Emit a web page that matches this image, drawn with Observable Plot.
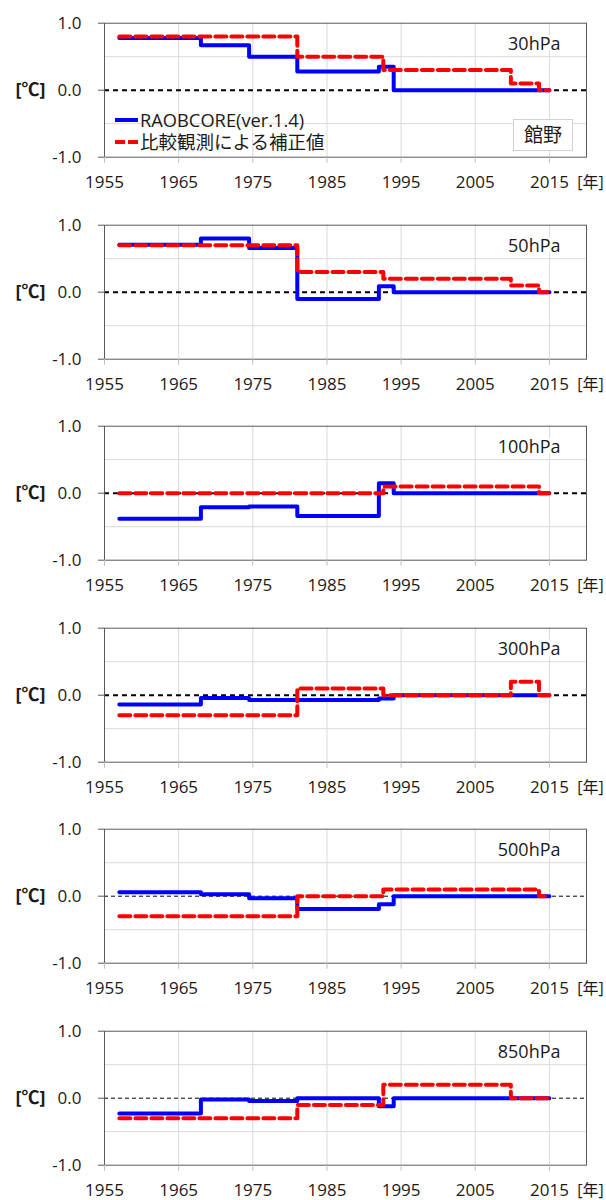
<!DOCTYPE html>
<html><head><meta charset="utf-8">
<script src="https://cdn.jsdelivr.net/npm/d3@7"></script>
<script src="https://cdn.jsdelivr.net/npm/@observablehq/plot@0.6"></script>
<style>
body{margin:0;background:#fff;}
#wrap{position:relative;width:606px;height:1200px;font-family:"Open Sans","Noto Sans CJK JP",sans-serif;color:#1a1a1a;overflow:hidden;}
#wrap svg{display:block;}
.ov{position:absolute;white-space:nowrap;}
</style></head><body><div id="wrap"></div>
<script>
// ---- data ----
const levels = ["30hPa", "50hPa", "100hPa", "300hPa", "500hPa", "850hPa"];
const seriesNames = ["RAOBCORE(ver.1.4)", "比較観測による補正値"];
const stationName = "館野";
const yUnit = "[℃]";
const xUnit = "[年]";
const xTicks = [1955, 1965, 1975, 1985, 1995, 2005, 2015];
const xUnitTick = [2020];
const xGrid = [1965, 1975, 1985, 1995, 2005, 2015];
const yTicks = [-1, 0, 1];
const yGrid = [-0.5, 0.5];

// RAOBCORE change years (step-after) and values per level
const raobYears = [1957, 1968, 1974.5, 1981, 1992, 1994, 2015];
const raob30  = [0.78, 0.67, 0.50, 0.28, 0.35, 0.00, 0.00];
const raob50  = [0.71, 0.80, 0.66, -0.10, 0.09, 0.00, 0.00];
const raob100 = [-0.38, -0.21, -0.20, -0.34, 0.15, 0.00, 0.00];
const raob300 = [-0.14, -0.04, -0.07, -0.07, -0.05, 0.00, 0.00];
const raob500 = [0.06, 0.03, -0.03, -0.19, -0.12, 0.00, 0.00];
const raob850 = [-0.23, -0.02, -0.04, 0.00, -0.12, 0.00, 0.00];

// Comparison-based correction change years and values per level
const compYears = [1957, 1981, 1992.6, 2009.8, 2013.6, 2015];
const comp30  = [0.80, 0.50, 0.30, 0.10, 0.00, 0.00];
const comp50  = [0.70, 0.30, 0.20, 0.10, 0.00, 0.00];
const comp100 = [0.00, 0.00, 0.10, 0.10, 0.00, 0.00];
const comp300 = [-0.30, 0.10, 0.00, 0.20, 0.00, 0.00];
const comp500 = [-0.30, 0.00, 0.10, 0.10, 0.00, 0.00];
const comp850 = [-0.30, -0.10, 0.20, 0.00, 0.00, 0.00];

const raobAll = [raob30, raob50, raob100, raob300, raob500, raob850];
const compAll = [comp30, comp50, comp100, comp300, comp500, comp850];

// ---- drawing ----
const wrap = document.getElementById("wrap");
const FONT = '"Open Sans","Noto Sans CJK JP",sans-serif';
const toRows = (years, vals) => years.map((year, i) => ({year, value: vals[i]}));
const TXT = "#1a1a1a";

levels.forEach((level, k) => {
  const thin = k >= 4;
  const chart = Plot.plot({
    width: 606, height: 201.6,
    marginLeft: 104, marginRight: 20, marginTop: 22.7, marginBottom: 44.9,
    x: {domain: [1955, 2020], label: null},
    y: {domain: [-1, 1], label: null},
    style: {fontFamily: FONT, fontSize: "17px", color: TXT, background: "white", overflow: "visible"},
    marks: [
      Plot.gridX(xGrid, {stroke: "#d9d9d9", strokeOpacity: 1}),
      Plot.gridY(yGrid, {stroke: "#d9d9d9", strokeOpacity: 1}),
      Plot.ruleY([0], {stroke: "#000", strokeWidth: thin ? 1 : 2, strokeDasharray: thin ? "4,3" : "5,4"}),
      Plot.frame({stroke: "#595959"}),
      Plot.axisY(yTicks, {tickSize: 6, tickPadding: 17, tickFormat: d => d.toFixed(1), stroke: "#595959", fontSize: 17}),
      Plot.axisX(xTicks, {tickSize: 6, tickPadding: 13, tickFormat: d => String(d), stroke: "#bfbfbf", fontSize: 17}),
      Plot.axisX(xUnitTick, {tickSize: 0, tickPadding: 19, dx: 4, tickFormat: () => xUnit, fontSize: 16}),
      Plot.line(toRows(raobYears, raobAll[k]), {x: "year", y: "value", curve: "step-after", stroke: "#0000ff", strokeWidth: 4}),
      Plot.line(toRows(compYears, compAll[k]), {x: "year", y: "value", curve: "step-after", stroke: "#ff0000", strokeWidth: 4, strokeDasharray: "11,5"}),
      Plot.text([level], {frameAnchor: "top-right", dx: -26, dy: 21, textAnchor: "end", lineAnchor: "middle", fontSize: 18, fill: TXT, stroke: "white", strokeWidth: 6}),
      Plot.text([yUnit], {y: () => 0, frameAnchor: "left", dx: -74, textAnchor: "middle", fontSize: 18, fontWeight: "bold", fill: TXT})
    ]
  });
  wrap.appendChild(chart);
});

// legend (inside first panel)
const legendColors = ["#0000ff", "#ff0000"];
const legendDash = [null, "10,3"];
const legendY = [120, 142];
const svgNS = "http://www.w3.org/2000/svg";
const lsvg = document.createElementNS(svgNS, "svg");
lsvg.setAttribute("width", 606); lsvg.setAttribute("height", 200);
lsvg.style.position = "absolute"; lsvg.style.left = "0"; lsvg.style.top = "0";
seriesNames.forEach((name, i) => {
  const ln = document.createElementNS(svgNS, "line");
  ln.setAttribute("x1", 115); ln.setAttribute("x2", 138);
  ln.setAttribute("y1", legendY[i]); ln.setAttribute("y2", legendY[i]);
  ln.setAttribute("stroke", legendColors[i]); ln.setAttribute("stroke-width", 4);
  if (legendDash[i]) ln.setAttribute("stroke-dasharray", legendDash[i]);
  lsvg.appendChild(ln);
  const sp = document.createElement("div");
  sp.className = "ov";
  sp.textContent = name;
  sp.style.left = "140px";
  sp.style.top = (legendY[i] - 10) + "px";
  sp.style.lineHeight = "20px";
  sp.style.fontSize = i === 0 ? "18.3px" : "18.5px";
  sp.style.color = TXT;
  wrap.appendChild(sp);
});
wrap.appendChild(lsvg);

const box = document.createElement("div");
box.className = "ov";
box.textContent = stationName;
Object.assign(box.style, {left: "513px", top: "119px", width: "58px", height: "30px", border: "1px solid #d0d0d0",
  background: "white", textAlign: "center", lineHeight: "30px", fontSize: "19px", color: TXT});
wrap.appendChild(box);
</script></body></html>
